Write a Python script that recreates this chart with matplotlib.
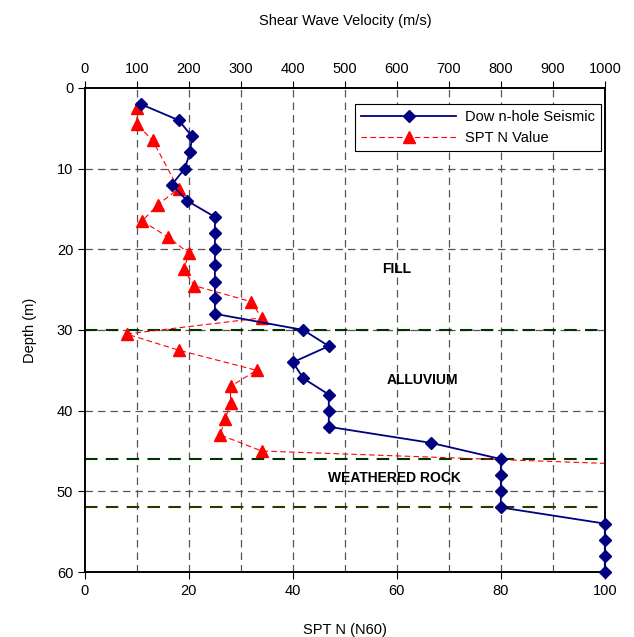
import matplotlib.pyplot as plt

plt.rcParams['font.family'] = ['Liberation Sans', 'DejaVu Sans']

# Downhole seismic - shear wave velocity (m/s) vs depth (m)
vs_depth = [2, 4, 6, 8, 10, 12, 14, 16, 18, 20, 22, 24, 26, 28,
            30, 32, 34, 36, 38, 40, 42, 44, 46, 48, 50, 52, 54, 56, 58, 60]
vs_value = [107, 180, 206, 202, 192, 167, 197, 250, 250, 250, 250, 250, 250, 250,
            420, 469, 400, 420, 469, 469, 469, 666, 800, 800, 800, 800, 1000, 1000, 1000, 1000]

# SPT N value vs depth (m); last point is beyond the 100 axis limit
spt_depth = [2.5, 4.5, 6.5, 12.5, 14.5, 16.5, 18.5, 20.5, 22.5, 24.5, 26.5, 28.5,
             30.5, 32.5, 35, 37, 39, 41, 43, 45, 47]
spt_value = [10, 10, 13, 18, 14, 11, 16, 20, 19, 21, 32, 34,
             8, 18, 33, 28, 28, 27, 26, 34, 120]

layer_bounds = [30, 46, 52]
layer_colors = ['#003300', '#003300', '#333300']
layer_names = ['FILL', 'ALLUVIUM', 'WEATHERED ROCK']
layer_label_pos = [(60, 22.5), (65, 36.2), (59.5, 48.3)]

fig = plt.figure(figsize=(6.34, 6.37), dpi=100)
ax = fig.add_axes([0.134, 0.102, 0.820, 0.760])
ax2 = ax.twiny()

# grid
for x in range(10, 100, 10):
    ax.axvline(x, color='#555555', lw=0.9, ls=(0, (6, 4)), zorder=1)
for y in range(10, 60, 10):
    ax.axhline(y, color='#555555', lw=0.9, ls=(0, (6, 4)), zorder=1)
for b, c in zip(layer_bounds, layer_colors):
    ax.axhline(b, color=c, lw=1.5, ls=(0, (6, 4)), zorder=2)

ax.plot(spt_value, spt_depth, color='#ff0000', ls=(0, (5, 3)), lw=0.8,
        marker='^', ms=8, mec='#ff0000', mfc='#ff0000', label='SPT N Value', zorder=4)
ax2.plot(vs_value, vs_depth, color='#000080', lw=1.3, marker='D', ms=6,
         mec='#000080', mfc='#000080', label='Dow n-hole Seismic', zorder=5,
         clip_on=False)

for name, (x, y) in zip(layer_names, layer_label_pos):
    ax.text(x, y, name, ha='center', va='center', fontsize=10, fontweight='bold')

ax.set_xlim(0, 100)
ax.set_ylim(60, 0)
ax2.set_xlim(0, 1000)
ax.set_xticks(range(0, 101, 20))
ax2.set_xticks(range(0, 1001, 100))
ax.set_yticks(range(0, 61, 10))

for a in (ax, ax2):
    a.tick_params(direction='out', length=5, labelsize=10.5)
    for s in a.spines.values():
        s.set_linewidth(1.2)

ax.set_xlabel('SPT N (N60)', fontsize=10.5, labelpad=18)
ax2.set_xlabel('Shear Wave Velocity (m/s)', fontsize=10.5, labelpad=27)
ax.set_ylabel('Depth (m)', fontsize=10.5, labelpad=14)

h1, l1 = ax2.get_legend_handles_labels()
h2, l2 = ax.get_legend_handles_labels()
leg = ax2.legend(h1 + h2, l1 + l2, loc='upper right', bbox_to_anchor=(0.992, 0.967),
                 fontsize=10.5, fancybox=False, framealpha=1, edgecolor='black',
                 borderaxespad=0, handlelength=6.5, handletextpad=0.6)
leg.get_frame().set_linewidth(0.8)

fig.savefig('out.png', dpi=100)
